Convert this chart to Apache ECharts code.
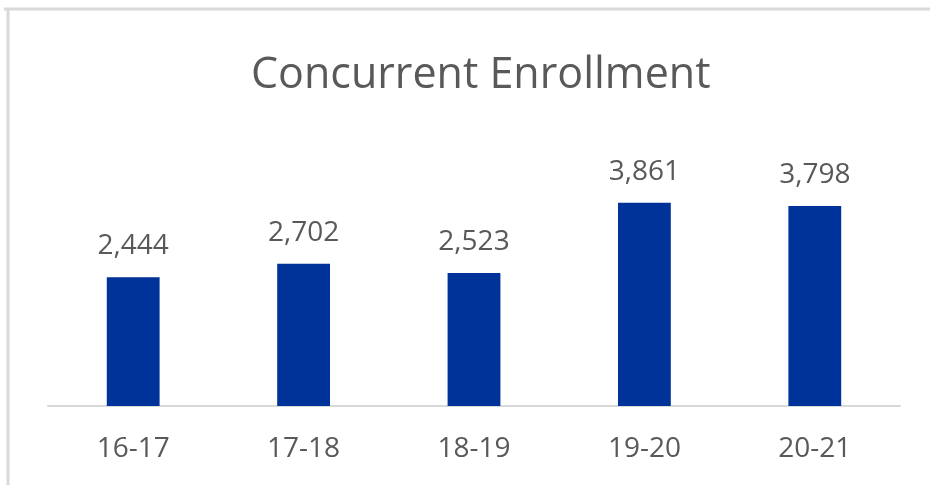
<!DOCTYPE html>
<html>
<head>
<meta charset="utf-8">
<style>
  html, body { margin: 0; padding: 0; background: #ffffff; }
  #chart { width: 930px; height: 485px; }
</style>
<script src="https://cdn.jsdelivr.net/npm/echarts@6/dist/echarts.min.js"></script>
</head>
<body>
<div id="chart"></div>
<script>
// School years and concurrent enrollment counts
const years = ['16-17', '17-18', '18-19', '19-20', '20-21'];
const enrollment = [2444, 2702, 2523, 3861, 3798];

const chart = echarts.init(document.getElementById('chart'));
const textColor = '#595959';
const font = '"Open Sans", sans-serif';

chart.setOption({
  animation: false,
  backgroundColor: '#ffffff',
  title: {
    text: 'Concurrent Enrollment',
    left: 246,
    top: 49,
    textStyle: { fontFamily: font, fontWeight: 'normal', fontSize: 43, color: textColor }
  },
  grid: { left: 48, right: 30, top: 169, height: 237 },
  xAxis: {
    type: 'category',
    data: years,
    axisLine: { show: true, lineStyle: { color: '#d9d9d9', width: 2 } },
    axisTick: { show: false },
    axisLabel: { margin: 29, fontFamily: font, fontSize: 28, color: textColor }
  },
  yAxis: {
    type: 'value',
    min: 0,
    max: 4500,
    interval: 500,
    show: false,
    splitLine: { show: false }
  },
  series: [{
    type: 'bar',
    data: enrollment,
    barWidth: '31%',
    itemStyle: { color: '#003399' },
    label: {
      show: true,
      position: 'top',
      distance: 17,
      fontFamily: font,
      fontSize: 28,
      color: textColor,
      formatter: p => p.value.toLocaleString('en-US')
    }
  }],
  graphic: [
    // frame edges along the top and left
    { type: 'line', shape: { x1: 4, y1: 9, x2: 930, y2: 9 }, style: { stroke: '#d9d9d9', lineWidth: 3 } },
    { type: 'line', shape: { x1: 8, y1: 9, x2: 8, y2: 485 }, style: { stroke: '#d9d9d9', lineWidth: 3 } }
  ]
});
</script>
</body>
</html>
